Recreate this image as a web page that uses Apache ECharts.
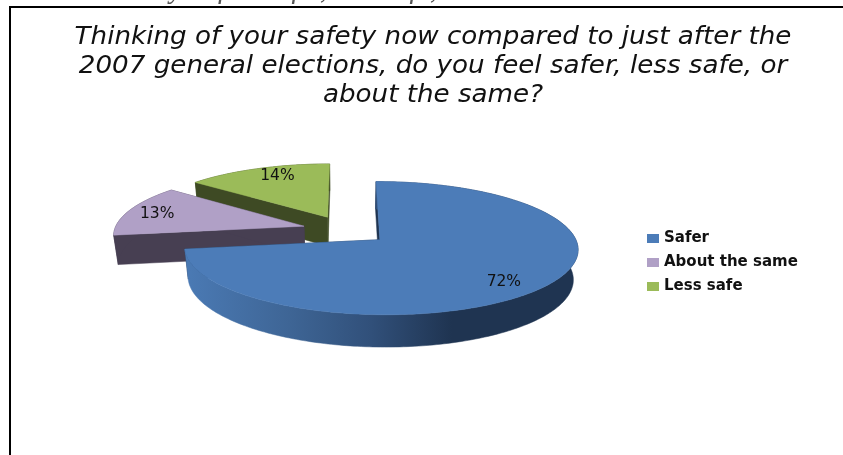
<!DOCTYPE html>
<html>
<head>
<meta charset="utf-8">
<style>html,body{margin:0;padding:0;background:#fff}#chart{width:843px;height:455px}</style>
<script src="https://cdn.jsdelivr.net/npm/echarts@6/dist/echarts.min.js"></script>
</head>
<body>
<div id="chart"></div>
<script>
// Survey answers, in legend order
const categories = ['Safer', 'About the same', 'Less safe'];
const percentValues = [72, 13, 14];
const titleLines = [
  'Thinking of your safety now compared to just after the',
  '2007 general elections, do you feel safer, less safe, or',
  'about the same?'
];
const leadInLine = 'do you feel safer, less safe, or about the same?';

// Face colours per slice
const topColors = ['#4c7cb8', '#b0a0c6', '#9bbb59'];
const wallColors = ['#1f3451', '#473f52', '#3e4a24'];

// Perspective pie: unit disc at height 0, base at height 1, projected onto the page
const view = {
  originX: 346, originY: 230, radiusX: 191, radiusY: 63,
  tiltV: 0.125, tiltU: 0.005, depth: 30, depthShrink: 0.02,
  explode: 0.23, labelRadius: [0.77, 0.82, 0.8], labelNudge: [[0, 7], [-3, 1], [7, -2]]
};

function project(u, v, z) {
  const w = 1 - view.tiltV * v - view.tiltU * u + view.depthShrink * z;
  return [
    view.originX + view.radiusX * u / w,
    view.originY + (view.radiusY * v + view.depth * z) / w
  ];
}

const total = percentValues.reduce((a, b) => a + b, 0);
function sliceAngles(index) {
  const before = percentValues.slice(0, index).reduce((a, b) => a + b, 0);
  return [before / total * 2 * Math.PI, (before + percentValues[index]) / total * 2 * Math.PI];
}

function buildSlice(index, api) {
  const [start, end] = sliceAngles(index);
  const mid = (start + end) / 2;
  const cu = view.explode * Math.sin(mid);
  const cv = -view.explode * Math.cos(mid);
  const rim = (angle, z) => project(cu + Math.sin(angle), cv - Math.cos(angle), z);

  const steps = Math.max(8, Math.ceil((end - start) / (Math.PI / 180)));
  const topRim = [], baseRim = [];
  for (let i = 0; i <= steps; i++) {
    const a = start + (end - start) * i / steps;
    topRim.push(rim(a, 0));
    baseRim.push(rim(a, 1));
  }
  const apexTop = project(cu, cv, 0);
  const apexBase = project(cu, cv, 1);

  const wallFill = index === 0
    ? new echarts.graphic.LinearGradient(190, 0, 575, 0, [
        { offset: 0, color: '#4a79b3' },
        { offset: 0.26, color: '#3e6595' },
        { offset: 0.47, color: '#31507a' },
        { offset: 0.68, color: '#1f3451' },
        { offset: 1, color: '#1f3451' }
      ], true)
    : wallColors[index];

  const poly = (points, fill) => ({
    type: 'polygon', shape: { points }, style: { fill, stroke: fill, lineWidth: 0.5 }
  });

  const lr = view.labelRadius[index];
  const labelPos = project(cu + lr * Math.sin(mid), cv - lr * Math.cos(mid), 0);
  const nudge = view.labelNudge[index];

  return {
    type: 'group',
    children: [
      poly([apexTop, topRim[0], baseRim[0], apexBase], wallColors[index]),
      poly([apexTop, topRim[steps], baseRim[steps], apexBase], wallColors[index]),
      poly(topRim.concat(baseRim.slice().reverse()), wallFill),
      poly([apexTop].concat(topRim), topColors[index]),
      {
        type: 'text',
        style: {
          text: api.value(0) + '%',
          x: labelPos[0] + nudge[0], y: labelPos[1] + nudge[1],
          align: 'center', verticalAlign: 'middle',
          font: '15.5px "DejaVu Sans"', fill: '#111'
        }
      }
    ]
  };
}

// Farther slices sit lower in the stack so the nearer ones overlap them
const stackOrder = [3, 1, 0.5];
const chart = echarts.init(document.getElementById('chart'), null, { renderer: 'canvas' });
chart.setOption({
  animation: false,
  backgroundColor: '#fff',
  legend: {
    data: categories,
    left: 642, top: 226, orient: 'vertical', icon: 'rect',
    itemWidth: 12, itemHeight: 9, itemGap: 9,
    textStyle: { fontFamily: 'DejaVu Sans', fontSize: 15, fontWeight: 'bold', color: '#111' },
    selectedMode: false
  },
  graphic: [
    { type: 'rect', shape: { x: 9, y: 6, width: 834, height: 2 }, style: { fill: '#000' }, silent: true },
    { type: 'rect', shape: { x: 9, y: 6, width: 2, height: 449 }, style: { fill: '#000' }, silent: true },
    {
      type: 'text', silent: true,
      style: {
        text: leadInLine, x: 134, y: -23.5,
        font: 'italic 28.5px "Liberation Serif"', fill: '#555'
      }
    },
    {
      // Chart heading, widened a little past the font's natural proportions
      type: 'text', silent: true, x: 433, y: 23.5, scaleX: 1.09, scaleY: 1,
      style: {
        text: titleLines.join('\n'), align: 'center', verticalAlign: 'top',
        font: 'italic 24px "DejaVu Sans"', lineHeight: 29, fill: '#111'
      }
    }
  ],
  series: categories.map((name, index) => ({
    type: 'custom', name, z: stackOrder[index] + 1,
    coordinateSystem: 'none', silent: true,
    itemStyle: { color: topColors[index] },
    data: [[percentValues[index]]],
    renderItem: (params, api) => buildSlice(index, api)
  }))
});
</script>
</body>
</html>
